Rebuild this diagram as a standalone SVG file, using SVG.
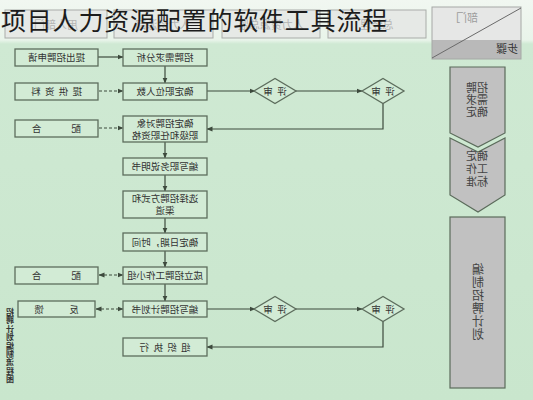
<svg xmlns="http://www.w3.org/2000/svg" width="533" height="400" viewBox="0 0 533 400">
<defs>
<linearGradient id="bg" x1="0" y1="0" x2="0" y2="1">
<stop offset="0" stop-color="#f1f7f1"/>
<stop offset="0.1" stop-color="#e9f4ea"/>
<stop offset="0.11" stop-color="#cfe9d3"/>
<stop offset="1" stop-color="#c9e6cd"/>
</linearGradient>
<marker id="ah" markerWidth="6" markerHeight="6" refX="5.5" refY="3" orient="auto" markerUnits="userSpaceOnUse">
<path d="M0,0.5 L6,3 L0,5.5 Z" fill="#3d4a3d"/>
</marker>
<marker id="ahs" markerWidth="6" markerHeight="6" refX="0.5" refY="3" orient="auto" markerUnits="userSpaceOnUse">
<path d="M6,0.5 L0,3 L6,5.5 Z" fill="#3d4a3d"/>
</marker>
</defs>
<style>
.box{fill:#d2ebd5;stroke:#5d6d5d;stroke-width:1.3}
.dia{fill:#d2ebd5;stroke:#5d6d5d;stroke-width:1.3}
.hdr{fill:#e6e9e6;stroke:#a9aca9;stroke-width:1}
.stp{fill:#c1c1c1;stroke:#5b6b5b;stroke-width:1.2}
.t{font-family:"Noto Sans CJK SC","Noto Sans",sans-serif;font-size:9.5px;fill:#333;text-anchor:middle}
.ts{font-family:"Noto Sans CJK SC","Noto Sans",sans-serif;font-size:11px;fill:#444;text-anchor:middle}
.th{font-family:"Noto Sans CJK SC","Noto Sans",sans-serif;font-size:11px;fill:#b4b4b4;text-anchor:middle}
.ln{fill:none;stroke:#3d4a3d;stroke-width:1.2}
.dl{fill:none;stroke:#3d4a3d;stroke-width:1.1;stroke-dasharray:3,2}
</style>
<rect x="0" y="0" width="533" height="400" fill="url(#bg)"/>

<g id="headers">
<rect class="hdr" x="5" y="10" width="102" height="28"/>
<rect class="hdr" x="114" y="10" width="99" height="28"/>
<rect class="hdr" x="222" y="10" width="98" height="28"/>
<rect class="hdr" x="328" y="10" width="98" height="28"/>
<text class="th" transform="translate(56,29) scale(-1,1)">用人部门</text>
<text class="th" transform="translate(163,29) scale(-1,1)">人力资源部</text>
<text class="th" transform="translate(271,29) scale(-1,1)">人力资源总监</text>
<text class="th" transform="translate(377,29) scale(-1,1)">总经理</text>
</g>

<g id="corner">
<rect x="432" y="7" width="89" height="33" fill="#e6e7e6"/>
<rect x="432" y="40" width="89" height="19" fill="#b9b9b9"/>
<rect x="432" y="7" width="89" height="52" fill="none" stroke="#a5a8a5" stroke-width="1"/>
<line x1="432" y1="58" x2="521" y2="8" stroke="#6a6a6a" stroke-width="1"/>
<text class="th" style="fill:#9c9c9c" transform="translate(467,22) scale(-1,1)">部门</text>
<text class="ts" style="fill:#333" transform="translate(507,53) scale(-1,1)">步骤</text>
</g>

<g id="step1">
<polygon class="stp" points="450,67 505,67 505,133 478,147 450,133"/>
<text class="ts" transform="translate(477,92) scale(-1,1)">招聘</text>
<text class="ts" transform="translate(477,104) scale(-1,1)">需求</text>
<text class="ts" transform="translate(477,116) scale(-1,1)">确定</text>
</g>
<g id="step2">
<polygon class="stp" points="450,138 478,152 505,138 505,195 478,212 450,195"/>
<text class="ts" transform="translate(477,160) scale(-1,1)">确定</text>
<text class="ts" transform="translate(477,173) scale(-1,1)">工作</text>
<text class="ts" transform="translate(477,186) scale(-1,1)">标准</text>
</g>
<g id="step3">
<rect class="stp" x="450" y="217" width="55" height="171"/>
<text class="ts" style="font-size:12px;text-anchor:start;writing-mode:vertical-rl;letter-spacing:1px" transform="translate(478,263) scale(-1,1)">编制招聘计划</text>
</g>

<g id="connectors">
<line class="ln" x1="98" y1="57" x2="123" y2="57" marker-end="url(#ah)"/>
<line class="ln" x1="165" y1="66" x2="165" y2="83" marker-end="url(#ah)"/>
<line class="dl" x1="99" y1="91" x2="123" y2="91" marker-end="url(#ah)"/>
<line class="ln" x1="207" y1="91" x2="255" y2="91" marker-end="url(#ah)"/>
<line class="ln" x1="295" y1="91" x2="362" y2="91" marker-end="url(#ah)"/>
<polyline class="ln" points="383,103 383,129 207,129" marker-end="url(#ah)"/>
<line class="dl" x1="99" y1="128" x2="123" y2="128" marker-end="url(#ah)"/>
<line class="ln" x1="165" y1="142" x2="165" y2="158" marker-end="url(#ah)"/>
<line class="ln" x1="165" y1="175" x2="165" y2="191" marker-end="url(#ah)"/>
<line class="ln" x1="165" y1="218" x2="165" y2="233" marker-end="url(#ah)"/>
<line class="ln" x1="165" y1="251" x2="165" y2="267" marker-end="url(#ah)"/>
<line class="dl" x1="99" y1="275" x2="123" y2="275" marker-start="url(#ahs)" marker-end="url(#ah)"/>
<line class="ln" x1="165" y1="284" x2="165" y2="301" marker-end="url(#ah)"/>
<line class="dl" x1="96" y1="309" x2="123" y2="309" marker-start="url(#ahs)" marker-end="url(#ah)"/>
<line class="ln" x1="207" y1="309" x2="255" y2="309" marker-end="url(#ah)"/>
<line class="ln" x1="295" y1="309" x2="362" y2="309" marker-end="url(#ah)"/>
<polyline class="ln" points="383,321 383,347 207,347" marker-end="url(#ah)"/>
</g>

<g id="l1"><rect class="box" x="15" y="49" width="83" height="17"/><text class="t" transform="translate(56.5,61) scale(-1,1)">提出招聘申请</text></g>
<g id="l2"><rect class="box" x="15" y="83" width="83" height="17"/><text class="t" transform="translate(56.5,95) scale(-1,1)" xml:space="preserve">提  供  资  料</text></g>
<g id="l3"><rect class="box" x="15" y="120" width="83" height="17"/><text class="t" transform="translate(56.5,132) scale(-1,1)" xml:space="preserve">配              合</text></g>
<g id="l7"><rect class="box" x="15" y="267" width="83" height="17"/><text class="t" transform="translate(56.5,279) scale(-1,1)" xml:space="preserve">配              合</text></g>
<g id="l8"><rect class="box" x="18" y="301" width="77" height="16"/><text class="t" transform="translate(56.5,313) scale(-1,1)" xml:space="preserve">反            馈</text></g>

<g id="c1"><rect class="box" x="123" y="49" width="84" height="17"/><text class="t" transform="translate(165,61) scale(-1,1)">招聘需求分析</text></g>
<g id="c2"><rect class="box" x="123" y="83" width="84" height="17"/><text class="t" transform="translate(165,95) scale(-1,1)">确定职位人数</text></g>
<g id="c3"><rect class="box" x="123" y="116" width="84" height="26"/><text class="t" transform="translate(165,127) scale(-1,1)">确定招聘对象</text><text class="t" transform="translate(165,139) scale(-1,1)">职级和任职资格</text></g>
<g id="c4"><rect class="box" x="123" y="158" width="84" height="17"/><text class="t" transform="translate(165,170) scale(-1,1)">编写职务说明书</text></g>
<g id="c5"><rect class="box" x="123" y="191" width="84" height="27"/><text class="t" transform="translate(165,202) scale(-1,1)">选择招聘方式和</text><text class="t" transform="translate(165,214) scale(-1,1)">渠道</text></g>
<g id="c6"><rect class="box" x="123" y="233" width="84" height="18"/><text class="t" transform="translate(165,246) scale(-1,1)">确定日期，时间</text></g>
<g id="c7"><rect class="box" x="123" y="267" width="84" height="17"/><text class="t" transform="translate(165,279) scale(-1,1)">成立招聘工作小组</text></g>
<g id="c8"><rect class="box" x="123" y="301" width="84" height="16"/><text class="t" transform="translate(165,313) scale(-1,1)">编写招聘计划书</text></g>
<g id="c9"><rect class="box" x="123" y="338" width="84" height="18"/><text class="t" transform="translate(165,351) scale(-1,1)" xml:space="preserve">组  织  执  行</text></g>

<g id="d1"><polygon class="dia" points="254,91 275,78.5 296,91 275,103.5"/><text class="t" transform="translate(275,95) scale(-1,1)" xml:space="preserve">评  审</text></g>
<g id="d2"><polygon class="dia" points="362,91 383,78.5 404,91 383,103.5"/><text class="t" transform="translate(383,95) scale(-1,1)" xml:space="preserve">评  审</text></g>
<g id="d3"><polygon class="dia" points="254,309 275,296.5 296,309 275,321.5"/><text class="t" transform="translate(275,313) scale(-1,1)" xml:space="preserve">评  审</text></g>
<g id="d4"><polygon class="dia" points="362,309 383,296.5 404,309 383,321.5"/><text class="t" transform="translate(383,313) scale(-1,1)" xml:space="preserve">评  审</text></g>

<text id="vtitle" style="font-family:'Noto Sans CJK SC','Noto Sans',sans-serif;font-size:8px;font-weight:bold;fill:#333;writing-mode:vertical-rl;letter-spacing:0.4px" transform="translate(10,308) scale(-1,1)">招聘计划编制流程图</text>

<text x="1" y="30" style="font-family:'Noto Sans CJK SC','Noto Sans',sans-serif;font-size:25px;fill:#1c1c1c;letter-spacing:0.8px">项目人力资源配置的软件工具流程</text>
</svg>
